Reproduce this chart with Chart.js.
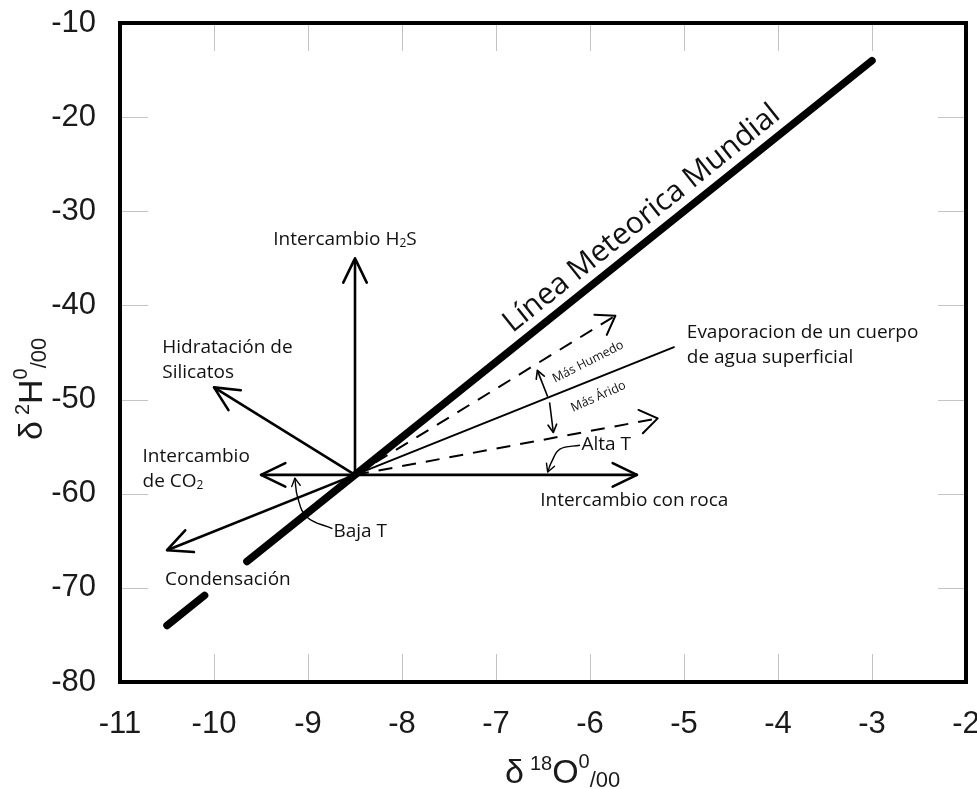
<!DOCTYPE html>
<html>
<head>
<meta charset="utf-8">
<script src="https://cdn.jsdelivr.net/npm/chart.js@4.4.1/dist/chart.umd.min.js"></script>
<style>
  html, body { margin: 0; padding: 0; background: #fff; }
  #wrap { width: 977px; height: 789px; }
</style>
</head>
<body>
<div id="wrap"><canvas id="chart" width="977" height="789"></canvas></div>
<script>
// axis ticks (delta 18O on x, delta 2H on y)
const xTicks = [-11, -10, -9, -8, -7, -6, -5, -4, -3, -2];
const yTicks = [-80, -70, -60, -50, -40, -30, -20, -10];

// common origin of the process vectors
const originX = -8.5;
const originY = -58;

// Linea Meteorica Mundial, split where "Condensación" sits
const gmwlLowX = [-10.5, -10.1];
const gmwlLowY = [-74, -70.8];
const gmwlHighX = [-9.65, -3];
const gmwlHighY = [-67.2, -14];

// process arrows, end points (start at origin)
const arrowNames = ['Intercambio H2S', 'Hidratacion', 'Intercambio CO2', 'Condensacion', 'Intercambio con roca'];
const arrowEndX = [-8.5, -10.0, -9.5, -10.5, -5.5];
const arrowEndY = [-35, -48.7, -58, -66, -58];

// evaporation line and its dashed envelope
const evapEndX = -5.1, evapEndY = -44.4;
const humedoEndX = -5.73, humedoEndY = -41.1;
const aridoEndX = -5.28, aridoEndY = -52.0;

// small indicator arrows between the lines
const masHumedoX = [-6.45, -6.56];
const masHumedoY = [-49.7, -46.9];
const masAridoX = [-6.43, -6.39];
const masAridoY = [-50.3, -53.5];

// curved pointers for Baja T / Alta T
const bajaTX = [-8.74, -9.01, -9.11, -9.14];
const bajaTY = [-63.7, -62.5, -60.4, -58.35];
const altaTX = [-6.106, -6.32, -6.41, -6.45];
const altaTY = [-54.85, -55.27, -56.65, -57.7];

const pts = (xs, ys) => xs.map((x, i) => ({ x: x, y: ys[i] }));
const seg = (x, y) => [{ x: originX, y: originY }, { x: x, y: y }];

const TXT = '"Open Sans", "Noto Sans", sans-serif';
const NUM = '"Liberation Sans", Arial, sans-serif';

function line(data, width, extra) {
    return Object.assign({
        data: data,
        showLine: true,
        borderColor: '#000',
        backgroundColor: '#000',
        borderWidth: width,
        pointRadius: 0,
        tension: 0
    }, extra || {});
}

const datasets = [
    line(pts(gmwlLowX, gmwlLowY), 7.5, { borderCapStyle: 'round' }),
    line(pts(gmwlHighX, gmwlHighY), 7.5, { borderCapStyle: 'round' }),
    line(seg(evapEndX, evapEndY), 2),
    line(seg(humedoEndX, humedoEndY), 2, { borderDash: [14, 10], arrow: { len: 21, ang: 0.6 } }),
    line(seg(aridoEndX, aridoEndY), 2, { borderDash: [14, 10], arrow: { len: 21, ang: 0.6 } }),
    line(pts(masHumedoX, masHumedoY), 1.6, { arrow: { len: 9, ang: 0.5 } }),
    line(pts(masAridoX, masAridoY), 1.6, { arrow: { len: 9, ang: 0.5 } }),
    line(pts(bajaTX, bajaTY), 1.4, { tension: 0.4, arrow: { len: 9, ang: 0.5 } }),
    line(pts(altaTX, altaTY), 1.4, { tension: 0.4, arrow: { len: 9, ang: 0.5 } })
];
arrowNames.forEach((name, i) => {
    datasets.push(line(seg(arrowEndX[i], arrowEndY[i]), 2.6, { label: name, arrow: { len: 27, ang: 0.45 } }));
});

// labels anchored in data units
const labels = [
    { x: -9.37, y: -33.6, parts: [['Intercambio H', 19], ['2', 12, 2], ['S', 19]] },
    { x: -10.55, y: -45.07, parts: [['Hidratación de', 19]] },
    { x: -10.55, y: -47.7, parts: [['Silicatos', 19]] },
    { x: -10.76, y: -56.65, parts: [['Intercambio', 19]] },
    { x: -10.76, y: -59.3, parts: [['de CO', 19], ['2', 12, 2]] },
    { x: -8.73, y: -64.6, parts: [['Baja T', 19]] },
    { x: -10.52, y: -69.7, parts: [['Condensación', 19]] },
    { x: -4.97, y: -43.5, parts: [['Evaporacion de un cuerpo', 19]] },
    { x: -4.97, y: -46.1, parts: [['de agua superficial', 19]] },
    { x: -6.09, y: -55.4, parts: [['Alta T', 19]] },
    { x: -6.53, y: -61.3, parts: [['Intercambio con roca', 19]] },
    { x: -6.02, y: -46.0, parts: [['Más Humedo', 12.5]], rot: -27, center: true },
    { x: -5.91, y: -49.7, parts: [['Más Árido', 12.5]], rot: -24, center: true },
    { x: -5.45, y: -30.8, parts: [['Línea Meteorica Mundial', 30]], rot: 'gmwl', center: true }
];

function drawRich(ctx, x, y, parts, fam) {
    let cx = x;
    parts.forEach(p => {
        ctx.font = p[1] + 'px ' + fam;
        ctx.fillText(p[0], cx, y + (p[2] || 0));
        cx += ctx.measureText(p[0]).width + (p[3] || 0);
    });
}

function richWidth(ctx, parts, fam) {
    let w = 0;
    parts.forEach(p => {
        ctx.font = p[1] + 'px ' + fam;
        w += ctx.measureText(p[0]).width + (p[3] || 0);
    });
    return w;
}

const decorations = {
    id: 'decorations',
    beforeDatasetsDraw(chart) {
        const ctx = chart.ctx;
        const a = chart.chartArea;
        const xs = chart.scales.x, ys = chart.scales.y;
        ctx.save();
        ctx.strokeStyle = '#c4c4c4';
        ctx.lineWidth = 1;
        ctx.beginPath();
        xs.ticks.forEach(t => {
            if (t.value === xs.min || t.value === xs.max) return;
            const px = Math.round(xs.getPixelForValue(t.value)) + 0.5;
            ctx.moveTo(px, a.bottom); ctx.lineTo(px, a.bottom - 28);
            ctx.moveTo(px, a.top); ctx.lineTo(px, a.top + 28);
        });
        ys.ticks.forEach(t => {
            if (t.value === ys.min || t.value === ys.max) return;
            const py = Math.round(ys.getPixelForValue(t.value)) + 0.5;
            ctx.moveTo(a.left, py); ctx.lineTo(a.left + 28, py);
            ctx.moveTo(a.right, py); ctx.lineTo(a.right - 28, py);
        });
        ctx.stroke();
        ctx.restore();
    },
    afterDatasetsDraw(chart) {
        const ctx = chart.ctx;
        const a = chart.chartArea;
        const xs = chart.scales.x, ys = chart.scales.y;
        ctx.save();

        // arrow heads
        ctx.strokeStyle = '#000';
        ctx.lineCap = 'round';
        ctx.lineJoin = 'round';
        chart.data.datasets.forEach((ds, i) => {
            if (!ds.arrow) return;
            const el = chart.getDatasetMeta(i).data;
            const tip = el[el.length - 1];
            let fx = el[el.length - 2].x, fy = el[el.length - 2].y;
            if (ds.tension && tip.cp1x !== undefined) { fx = tip.cp1x; fy = tip.cp1y; }
            const ang = Math.atan2(tip.y - fy, tip.x - fx);
            ctx.setLineDash([]);
            ctx.lineWidth = ds.borderWidth;
            ctx.beginPath();
            [1, -1].forEach(s => {
                ctx.moveTo(tip.x, tip.y);
                ctx.lineTo(tip.x - ds.arrow.len * Math.cos(ang + s * ds.arrow.ang),
                           tip.y - ds.arrow.len * Math.sin(ang + s * ds.arrow.ang));
            });
            ctx.stroke();
        });

        // frame
        ctx.lineWidth = 4;
        ctx.lineCap = 'butt';
        ctx.lineJoin = 'miter';
        ctx.strokeRect(a.left, a.top, a.right - a.left, a.bottom - a.top);

        // annotation text
        const g = chart.getDatasetMeta(1).data;
        const gmwlAng = Math.atan2(g[1].y - g[0].y, g[1].x - g[0].x);
        ctx.fillStyle = '#111';
        labels.forEach(l => {
            const px = xs.getPixelForValue(l.x), py = ys.getPixelForValue(l.y);
            ctx.save();
            ctx.translate(px, py);
            if (l.rot !== undefined) {
                ctx.rotate(l.rot === 'gmwl' ? gmwlAng : l.rot * Math.PI / 180);
            }
            ctx.textAlign = 'left';
            ctx.textBaseline = l.center ? 'middle' : 'alphabetic';
            const w = l.center ? richWidth(ctx, l.parts, TXT) : 0;
            drawRich(ctx, -w / 2, 0, l.parts, TXT);
            ctx.restore();
        });

        // axis titles
        ctx.fillStyle = '#1a1a1a';
        ctx.textBaseline = 'alphabetic';
        ctx.textAlign = 'left';
        drawRich(ctx, 505, 783, [['δ', 34, 0, 6], ['18', 20, -13], ['O', 34], ['0', 20, -15], ['/00', 22, 4]], NUM);
        ctx.save();
        ctx.translate(42, 440);
        ctx.rotate(-Math.PI / 2);
        drawRich(ctx, 0, 0, [['δ', 34, 0, 6], ['2', 20, -13], ['H', 34], ['0', 20, -15], ['/00', 22, 4]], NUM);
        ctx.restore();

        ctx.restore();
    }
};

new Chart(document.getElementById('chart'), {
    type: 'scatter',
    data: { datasets: datasets },
    options: {
        responsive: false,
        animation: false,
        events: [],
        layout: { padding: { top: 23, right: 11, left: 0, bottom: 0 } },
        plugins: { legend: { display: false }, tooltip: { enabled: false } },
        scales: {
            x: {
                type: 'linear',
                min: xTicks[0],
                max: xTicks[xTicks.length - 1],
                afterBuildTicks: s => { s.ticks = xTicks.map(v => ({ value: v })); },
                ticks: { font: { family: NUM, size: 31 }, color: '#1a1a1a', padding: 24, maxRotation: 0 },
                grid: { display: false, drawTicks: false },
                border: { display: false },
                afterFit: s => { s.height = 107; s.paddingLeft = 0; s.paddingRight = 0; }
            },
            y: {
                type: 'linear',
                min: yTicks[0],
                max: yTicks[yTicks.length - 1],
                afterBuildTicks: s => { s.ticks = yTicks.map(v => ({ value: v })); },
                ticks: { font: { family: NUM, size: 31 }, color: '#1a1a1a', padding: 24 },
                grid: { display: false, drawTicks: false },
                border: { display: false },
                afterFit: s => { s.width = 120; s.paddingTop = 0; s.paddingBottom = 0; }
            }
        }
    },
    plugins: [decorations]
});
</script>
</body>
</html>
